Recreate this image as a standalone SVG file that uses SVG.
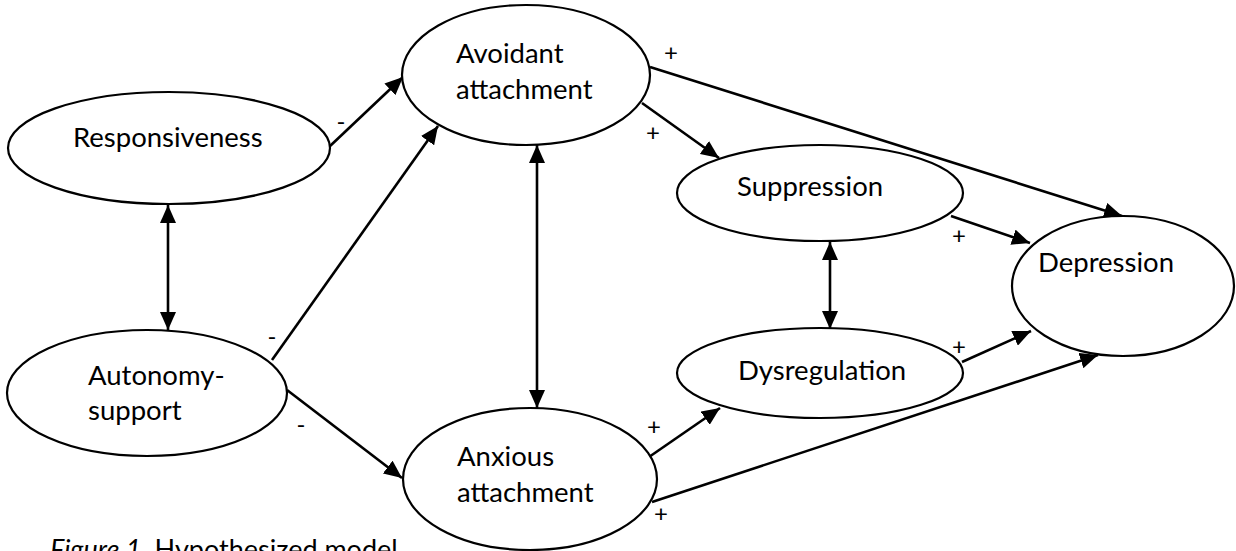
<svg xmlns="http://www.w3.org/2000/svg" width="1236" height="551" viewBox="0 0 1236 551">
  <style>
    .node ellipse { fill: #ffffff; stroke: #000000; stroke-width: 2.2; }
    .label { font-family: Lato, "Liberation Sans", sans-serif; font-size: 27.5px; fill: #000000; }
    .sign { font-family: Lato, "Liberation Sans", sans-serif; font-size: 24px; fill: #000000; text-anchor: middle; }
    .edge { fill: none; stroke: #000000; stroke-width: 2.6; marker-end: url(#head); }
    .both { marker-start: url(#head); }
    .caption { font-family: Lato, "Liberation Sans", sans-serif; font-size: 27px; fill: #000000; }
  </style>
  <defs>
    <marker id="head" markerUnits="userSpaceOnUse" markerWidth="19" markerHeight="16" refX="18" refY="8" orient="auto-start-reverse">
      <path d="M0,0 L18,8 L0,16 Z" fill="#000000"/>
    </marker>
  </defs>

  <rect width="1236" height="551" fill="#ffffff"/>

  <!-- connectors -->
  <g id="connectors">
    <line class="edge" x1="329" y1="147" x2="403" y2="77"/>
    <line class="edge" x1="272" y1="360" x2="438" y2="126"/>
    <line class="edge" x1="287" y1="390" x2="402" y2="478"/>
    <line class="edge both" x1="168" y1="205" x2="168" y2="330"/>
    <line class="edge both" x1="537" y1="145" x2="537" y2="408"/>
    <line class="edge" x1="642" y1="103" x2="719" y2="158"/>
    <line class="edge" x1="650" y1="67" x2="1122" y2="216"/>
    <line class="edge" x1="951" y1="216" x2="1030" y2="243"/>
    <line class="edge both" x1="830" y1="242" x2="830" y2="329"/>
    <line class="edge" x1="962" y1="362" x2="1031" y2="331"/>
    <line class="edge" x1="649" y1="457" x2="720" y2="408"/>
    <line class="edge" x1="652" y1="502" x2="1098" y2="355"/>

    <text class="sign" x="341" y="130">-</text>
    <text class="sign" x="272" y="345">-</text>
    <text class="sign" x="301" y="433">-</text>
    <text class="sign" x="671" y="61">+</text>
    <text class="sign" x="653" y="141">+</text>
    <text class="sign" x="959" y="244">+</text>
    <text class="sign" x="959" y="355">+</text>
    <text class="sign" x="654" y="435">+</text>
    <text class="sign" x="661" y="522">+</text>
  </g>

  <!-- nodes -->
  <g id="responsiveness" class="node">
    <ellipse cx="169" cy="148" rx="161" ry="56"/>
    <text class="label" x="73" y="147">Responsiveness</text>
  </g>
  <g id="autonomy-support" class="node">
    <ellipse cx="147" cy="393" rx="140" ry="63"/>
    <text class="label" x="88" y="385">Autonomy-</text>
    <text class="label" x="88" y="420">support</text>
  </g>
  <g id="avoidant-attachment" class="node">
    <ellipse cx="526" cy="75" rx="124" ry="70"/>
    <text class="label" x="456" y="63">Avoidant</text>
    <text class="label" x="456" y="99">attachment</text>
  </g>
  <g id="anxious-attachment" class="node">
    <ellipse cx="530" cy="479" rx="127" ry="71"/>
    <text class="label" x="457" y="466">Anxious</text>
    <text class="label" x="457" y="502">attachment</text>
  </g>
  <g id="suppression" class="node">
    <ellipse cx="820" cy="193" rx="143" ry="48"/>
    <text class="label" x="737" y="196">Suppression</text>
  </g>
  <g id="dysregulation" class="node">
    <ellipse cx="820" cy="373" rx="143" ry="45"/>
    <text class="label" x="738" y="380">Dysregulation</text>
  </g>
  <g id="depression" class="node">
    <ellipse cx="1123" cy="286" rx="111" ry="70"/>
    <text class="label" x="1038" y="272">Depression</text>
  </g>

  <!-- caption, running off the bottom edge -->
  <text class="caption" x="50" y="559"><tspan font-style="italic">Figure 1.</tspan> Hypothesized model</text>
</svg>
